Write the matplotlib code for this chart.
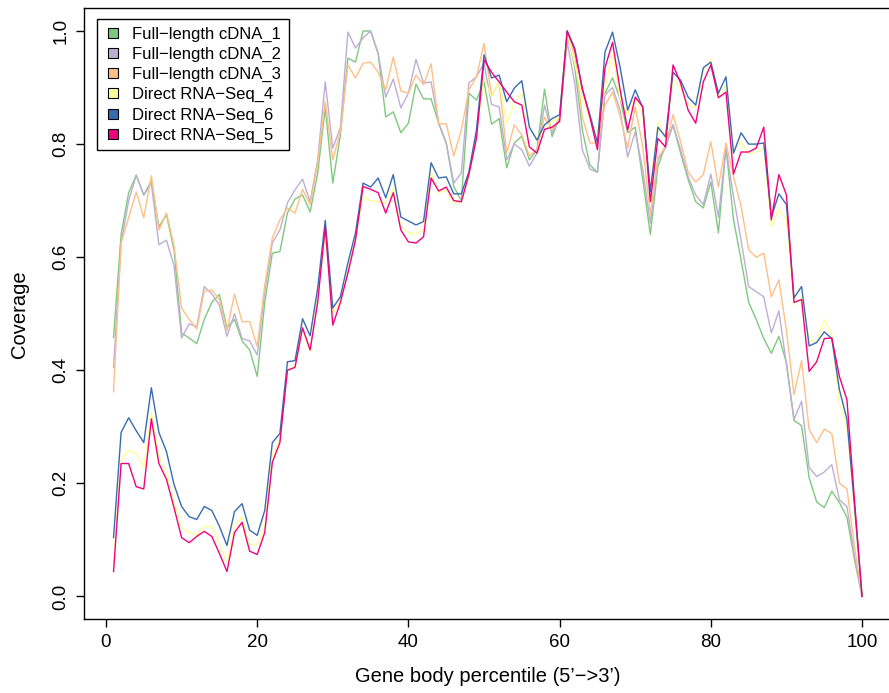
import numpy as np
import matplotlib
matplotlib.use("Agg")
import matplotlib.pyplot as plt
from matplotlib.lines import Line2D

plt.rcParams['font.family'] = ['Liberation Sans', 'DejaVu Sans']

percentile = np.arange(1, 101)

cdna_1 = [0.458, 0.64, 0.714, 0.745, 0.71, 0.735, 0.654, 0.675, 0.613, 0.466,
          0.457, 0.447, 0.49, 0.52, 0.534, 0.475, 0.49, 0.452, 0.436, 0.389,
          0.52, 0.607, 0.61, 0.678, 0.703, 0.71, 0.68, 0.749, 0.864, 0.731,
          0.816, 0.952, 0.945, 1.0, 1.0, 0.96, 0.848, 0.857, 0.82, 0.837,
          0.906, 0.88, 0.88, 0.837, 0.802, 0.725, 0.70, 0.89, 0.878, 0.91,
          0.835, 0.845, 0.758, 0.802, 0.814, 0.772, 0.79, 0.897, 0.813, 0.848,
          1.0, 0.936, 0.825, 0.763, 0.75, 0.89, 0.917, 0.88, 0.82, 0.83,
          0.737, 0.64, 0.76, 0.798, 0.834, 0.784, 0.737, 0.698, 0.687, 0.733,
          0.643, 0.795, 0.666, 0.595, 0.52, 0.49, 0.456, 0.43, 0.46, 0.413,
          0.311, 0.302, 0.21, 0.167, 0.157, 0.186, 0.166, 0.14, 0.065, 0.0]

cdna_2 = [0.405, 0.625, 0.70, 0.745, 0.71, 0.73, 0.622, 0.63, 0.585, 0.457,
          0.482, 0.477, 0.548, 0.535, 0.515, 0.46, 0.50, 0.456, 0.452, 0.427,
          0.54, 0.625, 0.648, 0.696, 0.719, 0.738, 0.698, 0.772, 0.91, 0.793,
          0.829, 0.998, 0.97, 0.988, 1.0, 0.96, 0.883, 0.915, 0.864, 0.89,
          0.95, 0.908, 0.91, 0.837, 0.802, 0.731, 0.749, 0.908, 0.919, 0.943,
          0.87, 0.866, 0.772, 0.80, 0.79, 0.761, 0.784, 0.869, 0.82, 0.848,
          0.98, 0.908, 0.79, 0.756, 0.75, 0.887, 0.90, 0.86, 0.777, 0.822,
          0.754, 0.66, 0.772, 0.793, 0.834, 0.79, 0.742, 0.71, 0.693, 0.747,
          0.671, 0.793, 0.707, 0.63, 0.548, 0.539, 0.53, 0.466, 0.505, 0.41,
          0.313, 0.345, 0.228, 0.212, 0.22, 0.233, 0.171, 0.159, 0.071, 0.0]

cdna_3 = [0.362, 0.625, 0.67, 0.715, 0.67, 0.744, 0.648, 0.678, 0.62, 0.51,
          0.49, 0.473, 0.54, 0.542, 0.525, 0.47, 0.535, 0.486, 0.486, 0.442,
          0.55, 0.634, 0.666, 0.687, 0.678, 0.72, 0.693, 0.767, 0.875, 0.772,
          0.822, 0.94, 0.917, 0.943, 0.945, 0.927, 0.896, 0.954, 0.894, 0.89,
          0.922, 0.905, 0.942, 0.836, 0.836, 0.779, 0.825, 0.896, 0.919, 0.978,
          0.885, 0.91, 0.784, 0.834, 0.816, 0.779, 0.79, 0.848, 0.825, 0.846,
          0.985, 0.96, 0.848, 0.802, 0.802, 0.869, 0.892, 0.85, 0.793, 0.866,
          0.795, 0.675, 0.776, 0.795, 0.852, 0.804, 0.75, 0.733, 0.746, 0.804,
          0.724, 0.802, 0.742, 0.69, 0.613, 0.60, 0.607, 0.53, 0.56, 0.47,
          0.357, 0.417, 0.295, 0.272, 0.296, 0.288, 0.20, 0.19, 0.088, 0.0]

rna_4 = [0.06, 0.242, 0.258, 0.253, 0.228, 0.325, 0.248, 0.217, 0.168, 0.122,
         0.113, 0.108, 0.124, 0.124, 0.092, 0.06, 0.124, 0.141, 0.092, 0.092,
         0.124, 0.25, 0.277, 0.40, 0.407, 0.472, 0.433, 0.53, 0.643, 0.50,
         0.525, 0.575, 0.635, 0.707, 0.70, 0.698, 0.696, 0.722, 0.654, 0.643,
         0.641, 0.65, 0.749, 0.714, 0.719, 0.696, 0.698, 0.742, 0.82, 0.917,
         0.883, 0.91, 0.837, 0.872, 0.89, 0.83, 0.81, 0.825, 0.84, 0.848,
         0.996, 0.943, 0.882, 0.843, 0.82, 0.90, 0.96, 0.88, 0.852, 0.883,
         0.848, 0.719, 0.84, 0.81, 0.915, 0.90, 0.869, 0.864, 0.931, 0.95,
         0.887, 0.905, 0.79, 0.804, 0.784, 0.786, 0.793, 0.654, 0.684, 0.666,
         0.516, 0.53, 0.454, 0.45, 0.489, 0.463, 0.343, 0.30, 0.15, 0.0]

rna_6 = [0.104, 0.29, 0.316, 0.293, 0.272, 0.369, 0.29, 0.256, 0.198, 0.159,
         0.141, 0.136, 0.159, 0.152, 0.124, 0.09, 0.15, 0.164, 0.117, 0.108,
         0.152, 0.272, 0.288, 0.415, 0.417, 0.491, 0.461, 0.545, 0.665, 0.51,
         0.53, 0.59, 0.643, 0.731, 0.724, 0.74, 0.705, 0.746, 0.671, 0.664,
         0.657, 0.663, 0.767, 0.74, 0.742, 0.712, 0.712, 0.751, 0.825, 0.958,
         0.917, 0.922, 0.875, 0.899, 0.912, 0.83, 0.807, 0.834, 0.845, 0.852,
         1.0, 0.97, 0.896, 0.852, 0.802, 0.963, 0.998, 0.936, 0.86, 0.896,
         0.864, 0.716, 0.83, 0.813, 0.927, 0.913, 0.883, 0.869, 0.935, 0.945,
         0.89, 0.919, 0.784, 0.82, 0.80, 0.80, 0.802, 0.671, 0.712, 0.693,
         0.528, 0.548, 0.443, 0.449, 0.468, 0.456, 0.366, 0.313, 0.16, 0.0]

rna_5 = [0.044, 0.235, 0.235, 0.194, 0.19, 0.314, 0.235, 0.207, 0.157, 0.104,
         0.095, 0.106, 0.115, 0.106, 0.076, 0.044, 0.113, 0.131, 0.08, 0.074,
         0.113, 0.237, 0.272, 0.40, 0.405, 0.475, 0.436, 0.52, 0.654, 0.48,
         0.52, 0.572, 0.63, 0.725, 0.72, 0.714, 0.678, 0.714, 0.648, 0.627,
         0.625, 0.636, 0.74, 0.717, 0.724, 0.70, 0.698, 0.746, 0.81, 0.949,
         0.927, 0.91, 0.892, 0.875, 0.869, 0.795, 0.784, 0.826, 0.83, 0.84,
         1.0, 0.966, 0.899, 0.848, 0.79, 0.935, 0.98, 0.896, 0.825, 0.883,
         0.866, 0.698, 0.81, 0.795, 0.94, 0.908, 0.86, 0.837, 0.91, 0.94,
         0.882, 0.892, 0.747, 0.786, 0.786, 0.793, 0.83, 0.666, 0.746, 0.71,
         0.52, 0.525, 0.398, 0.415, 0.456, 0.457, 0.389, 0.348, 0.17, 0.0]

labels = ["Full\u2212length cDNA_1", "Full\u2212length cDNA_2", "Full\u2212length cDNA_3",
          "Direct RNA\u2212Seq_4", "Direct RNA\u2212Seq_6", "Direct RNA\u2212Seq_5"]
series = [cdna_1, cdna_2, cdna_3, rna_4, rna_6, rna_5]
# RColorBrewer "Accent"
colors = ["#7FC97F", "#BEAED4", "#FDC086", "#FFFF99", "#386CB0", "#F0027F"]

W, H = 889, 693
fig = plt.figure(figsize=(W / 100, H / 100), dpi=100)
left, right, top, bottom = 83.6, 892.0, 8.4, 619.0
ax = fig.add_axes([left / W, (H - bottom) / H, (right - left) / W, (bottom - top) / H])

for vals, col in zip(series, colors):
    ax.plot(percentile, vals, color=col, lw=1.0)

ax.set_xlim(-2.96, 103.96)
ax.set_ylim(-0.04, 1.04)
ax.set_xticks(np.arange(0, 101, 20))
ax.set_yticks(np.arange(0, 1.01, 0.2))
ax.set_yticklabels(["%.1f" % v for v in np.arange(0, 1.01, 0.2)], rotation=90, va='center')
ax.tick_params(direction='out', length=6, width=1, labelsize=13.5)
ax.tick_params(axis='x', pad=5)
ax.tick_params(axis='y', pad=4)
for s in ax.spines.values():
    s.set_linewidth(1.0)

ax.set_xlabel("Gene body percentile (5\u2019\u2212>3\u2019)", fontsize=14.5, labelpad=11)
ax.set_ylabel("Coverage", fontsize=14.5, labelpad=17)

handles = [Line2D([], [], ls='none', marker='s', markersize=7, markerfacecolor=c,
                  markeredgecolor='black', markeredgewidth=0.8) for c in colors]
leg = ax.legend(handles, labels, loc='upper left', bbox_to_anchor=(0.0166, 0.982),
                borderaxespad=0, fontsize=12, frameon=True, fancybox=False,
                edgecolor='black', framealpha=1, handlelength=1.0, handletextpad=0.65,
                labelspacing=0.3, borderpad=0.45)
leg.get_frame().set_linewidth(1.0)

fig.savefig("out.png", dpi=100)
